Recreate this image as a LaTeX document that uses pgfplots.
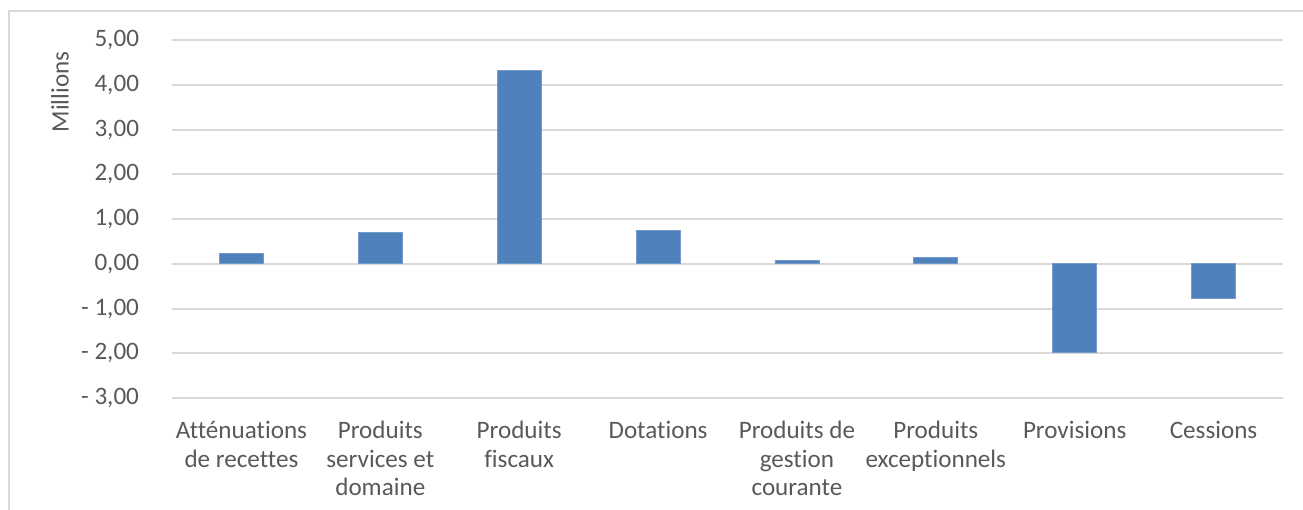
\documentclass[border=0pt]{standalone}
\usepackage{pgfplots}
\pgfplotsset{compat=1.18}
\usepackage{fontspec}
\setmainfont{Carlito}[Ligatures={NoCommon}]
\definecolor{barblue}{HTML}{4F81BD}
\definecolor{gridgray}{HTML}{D9D9D9}
\definecolor{txt}{HTML}{595959}
\begin{document}
\begin{tikzpicture}
\begin{axis}[
  name=ax,
  at={(0,0)}, anchor=south west,
  scale only axis,
  width=555.5bp, height=179bp,
  xmin=-0.5, xmax=7.5,
  ymin=-3, ymax=5,
  ytick={-3,-2,-1,0,1,2,3,4,5},
  yticklabels={{- 3,00},{- 2,00},{- 1,00},{0,00},{1,00},{2,00},{3,00},{4,00},{5,00}},
  xtick={0,1,2,3,4,5,6,7},
  xticklabels={{Atténuations\\de recettes},{Produits\\services et\\domaine},{Produits\\fiscaux},{Dotations},{Produits de\\gestion\\courante},{Produits\\exceptionnels},{Provisions},{Cessions}},
  xticklabel style={align=center, font=\fontsize{12.6}{14.4}\selectfont, text=txt, yshift=-8bp},
  yticklabel style={font=\fontsize{12.6}{14}\selectfont, text=txt, xshift=-13bp},
  axis line style={draw=none},
  major tick length=0pt,
  ymajorgrids,
  grid style={gridgray, line width=1bp},
  ybar, bar width=22bp,
  clip=false,
]
\addplot[fill=barblue, draw=barblue!80!white, line width=0.4bp] coordinates {
  (0,0.23) (1,0.70) (2,4.31) (3,0.74) (4,0.07) (5,0.14) (6,-1.99) (7,-0.78)
};
\end{axis}
\node[rotate=90, text=txt, font=\fontsize{12.6}{14}\selectfont] at ([shift={(-56bp,153bp)}]ax.south west) {Millions};
\draw[gridgray, line width=1bp] ([shift={(-81.5bp,-60bp)}]ax.south west) -- ([shift={(-81.5bp,193.5bp)}]ax.south west) -- ([shift={(570bp,193.5bp)}]ax.south west);
\pgfresetboundingbox
\path[use as bounding box] ([shift={(-86bp,-56bp)}]ax.south west) rectangle ([shift={(565.5bp,199bp)}]ax.south west);
\end{tikzpicture}
\end{document}
